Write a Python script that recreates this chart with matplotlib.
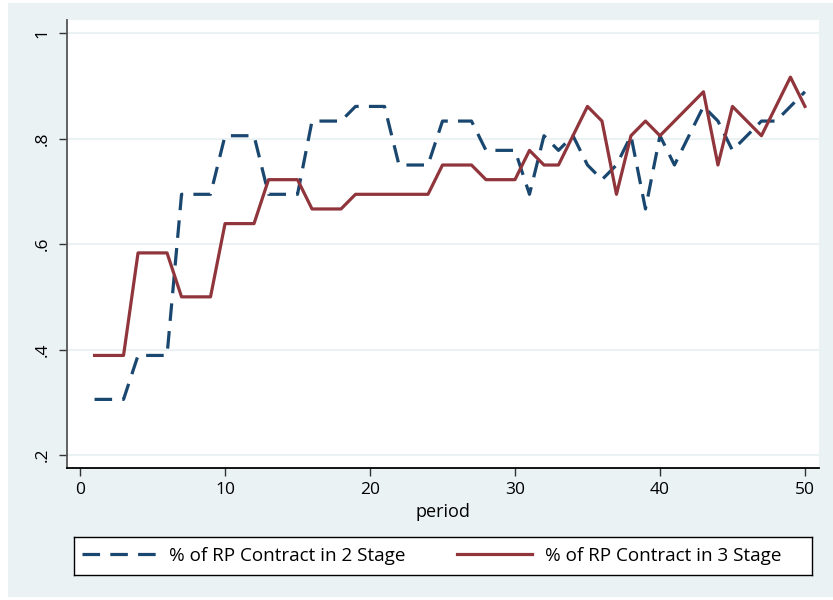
import matplotlib.pyplot as plt
from matplotlib.patches import Rectangle

# datos (fracciones de 36)
period = list(range(1, 51))
stage2 = [11, 11, 11, 14, 14, 14, 25, 25, 25, 29, 29, 29, 25, 25, 25, 30, 30, 30,
          31, 31, 31, 27, 27, 27, 30, 30, 30, 28, 28, 28, 25, 29, 28, 29, 27, 26,
          27, 29, 24, 29, 27, 29, 31, 30, 28, 29, 30, 30, 31, 32]
stage3 = [14, 14, 14, 21, 21, 21, 18, 18, 18, 23, 23, 23, 26, 26, 26, 24, 24, 24,
          25, 25, 25, 25, 25, 25, 27, 27, 27, 26, 26, 26, 28, 27, 27, 29, 31, 30,
          25, 29, 30, 29, 30, 31, 32, 27, 31, 30, 29, 31, 33, 31]
stage2 = [v / 36 for v in stage2]
stage3 = [v / 36 for v in stage3]

ytick_vals = [0.2, 0.4, 0.6, 0.8, 1.0]
ytick_labels = ['.2', '.4', '.6', '.8', '1']
xtick_vals = [0, 10, 20, 30, 40, 50]

fondo = '#EAF2F3'
azul = '#1A476F'
granate = '#90353B'

plt.rcParams['font.family'] = ['Open Sans', 'DejaVu Sans']

fig = plt.figure(figsize=(8.33, 6), dpi=100)
fig.patch.set_facecolor('white')
# fondo celeste estilo stata
fig.patches.append(Rectangle((8 / 833, 3 / 600), 825 / 833, 594 / 600,
                             transform=fig.transFigure, facecolor=fondo,
                             edgecolor='none', zorder=-10))

ax = fig.add_axes([67 / 833, 1 - 467.7 / 600, (819 - 67) / 833, (467.7 - 20) / 600])
ax.set_facecolor('white')

for v in ytick_vals:
    ax.axhline(v, color=fondo, lw=1.5, zorder=0)

l1, = ax.plot(period, stage2, color=azul, lw=2.3, dashes=(5.5, 3.2),
              label='% of RP Contract in 2 Stage')
l2, = ax.plot(period, stage3, color=granate, lw=2.3,
              label='% of RP Contract in 3 Stage')

ax.set_xlim(-0.9, 50.97)
ax.set_ylim(0.176, 1.025)
ax.set_xticks(xtick_vals)
ax.set_yticks(ytick_vals)
ax.set_yticklabels(ytick_labels, rotation=90, va='center')
ax.tick_params(axis='both', labelsize=12.5, length=6, width=1, color='#333333')
ax.tick_params(axis='x', pad=4)
ax.tick_params(axis='y', pad=6)

ax.spines['top'].set_visible(False)
ax.spines['right'].set_visible(False)
ax.spines['left'].set_color('#555555')
ax.spines['left'].set_linewidth(1.3)
ax.spines['bottom'].set_color('black')
ax.spines['bottom'].set_linewidth(1.3)

ax.set_xlabel('period', fontsize=13)

# leyenda en una caja blanca abajo
leg_ax = fig.add_axes([74 / 833, 1 - 575 / 600, (812 - 74) / 833, (575 - 537) / 600])
leg_ax.set_xticks([])
leg_ax.set_yticks([])
for s in leg_ax.spines.values():
    s.set_color('black')
    s.set_linewidth(1)
leg = leg_ax.legend(handles=[l1, l2], loc='center left', bbox_to_anchor=(0, 0.5),
                    borderaxespad=0, borderpad=0.4, ncol=2, frameon=False,
                    fontsize=13.6, handlelength=3.95, columnspacing=2.7,
                    handletextpad=0.7)

fig.savefig('out.png', dpi=100, facecolor=fig.get_facecolor())
